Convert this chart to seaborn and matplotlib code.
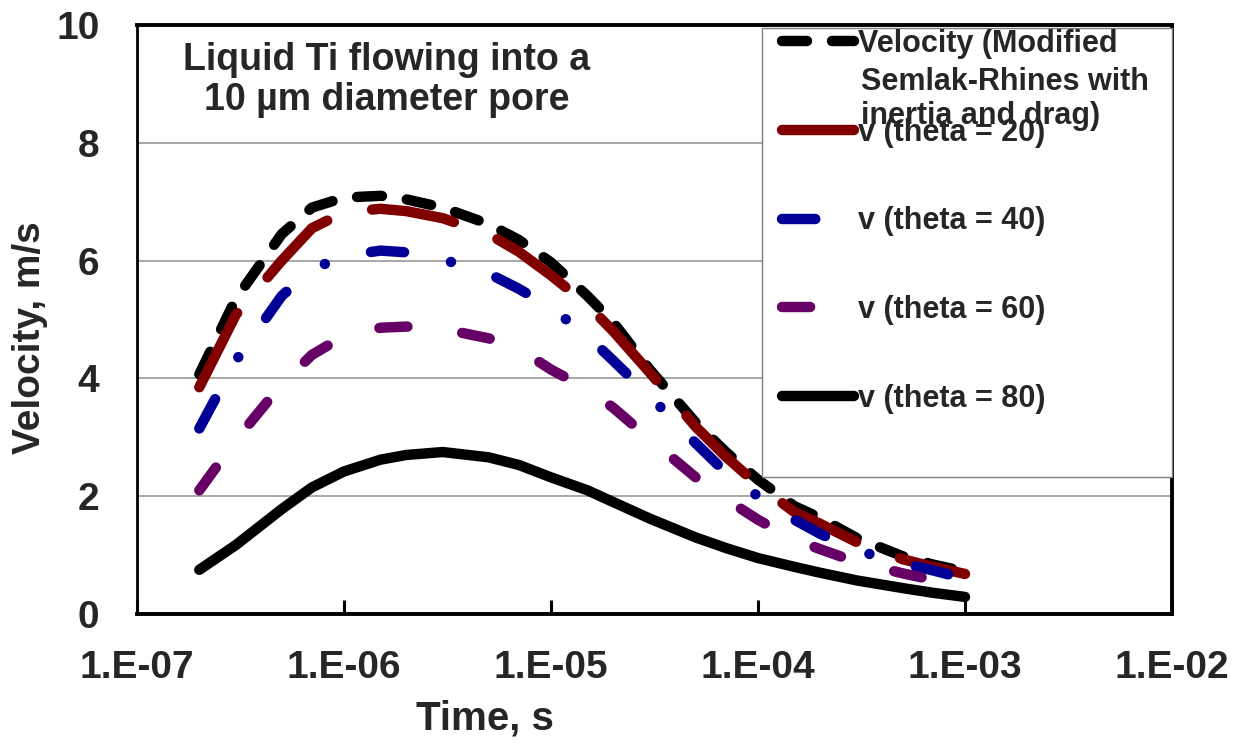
import numpy as np
import pandas as pd
import matplotlib
matplotlib.use("Agg")
import matplotlib.pyplot as plt
import seaborn as sns
from matplotlib.patches import Rectangle

# ---------------- data ----------------
time_s = [2e-7, 3e-7, 5e-7, 7e-7, 1e-6, 1.5e-6, 2e-6, 3e-6, 5e-6, 7e-6,
          1e-5, 1.5e-5, 2e-5, 3e-5, 5e-5, 7e-5, 1e-4, 1.5e-4, 2e-4, 3e-4,
          5e-4, 7e-4, 1e-3]

v_model = [4.07, 5.35, 6.45, 6.90, 7.07, 7.10, 7.04, 6.90, 6.62, 6.35,
           5.97, 5.40, 4.95, 4.15, 3.25, 2.75, 2.28, 1.83, 1.63, 1.29,
           0.98, 0.84, 0.72]
v_theta20 = [3.85, 5.08, 6.00, 6.55, 6.82, 6.88, 6.84, 6.72, 6.45, 6.15,
             5.75, 5.25, 4.80, 4.10, 3.18, 2.67, 2.19, 1.73, 1.53, 1.22,
             0.93, 0.80, 0.68]
v_theta40 = [3.15, 4.30, 5.40, 5.85, 6.08, 6.17, 6.14, 6.02, 5.78, 5.52,
             5.20, 4.72, 4.30, 3.70, 2.90, 2.40, 2.00, 1.60, 1.36, 1.08,
             0.86, 0.74, 0.60]
v_theta60 = [2.10, 2.95, 3.90, 4.40, 4.72, 4.86, 4.88, 4.84, 4.68, 4.50,
             4.15, 3.82, 3.50, 2.97, 2.32, 1.95, 1.60, 1.26, 1.10, 0.88,
             0.69, 0.58, 0.50]
v_theta80 = [0.75, 1.17, 1.78, 2.15, 2.42, 2.62, 2.70, 2.75, 2.66, 2.53,
             2.32, 2.10, 1.90, 1.62, 1.30, 1.12, 0.95, 0.80, 0.70, 0.57,
             0.44, 0.36, 0.29]

series_labels = ["Velocity (Modified", "v (theta = 20)", "v (theta = 40)",
                 "v (theta = 60)", "v (theta = 80)"]
label_cont = "Semlak-Rhines with\ninertia and drag)"
xtick_vals = [1e-7, 1e-6, 1e-5, 1e-4, 1e-3, 1e-2]
xtick_labels = ["1.E-07", "1.E-06", "1.E-05", "1.E-04", "1.E-03", "1.E-02"]
ytick_vals = [0, 2, 4, 6, 8, 10]
annotation = "Liquid Ti flowing into a\n10 \u00b5m diameter pore"

# ---------------- style ----------------
sns.set_style("white")
plt.rcParams['font.family'] = ['Liberation Sans', 'DejaVu Sans']
plt.rcParams['font.weight'] = 'bold'

fig = plt.figure(figsize=(12.45, 7.44), dpi=100)
ax = fig.add_axes([137 / 1245, 130 / 744, 1035 / 1245, 589 / 744])

colors = ["#000000", "#800000", "#000096", "#660066", "#000000"]
dash_patterns = [(2.4, 2.4), (8.0, 4.5), (3.2, 4.6, 0.01, 4.6), (2.7, 5.3), None]
lw = 7.5

all_series = [v_model, v_theta20, v_theta40, v_theta60, v_theta80]
handles = []
for vals, lab, col, dp in zip(all_series, series_labels, colors, dash_patterns):
    df = pd.DataFrame({"t": time_s, "v": vals})
    sns.lineplot(data=df, x="t", y="v", ax=ax, color=col, linewidth=lw,
                 label=lab, legend=False, sort=False)
    ln = ax.lines[-1]
    ln.set_solid_capstyle("round")
    ln.set_dash_capstyle("round")
    ln.set_solid_joinstyle("round")
    ln.set_dash_joinstyle("round")
    if dp is not None:
        ln.set_dashes(dp)
    handles.append(ln)

ax.set_xscale("log")
ax.set_xlim(1e-7, 1e-2)
ax.set_ylim(0, 10)
ax.set_xticks(xtick_vals)
ax.set_xticklabels(xtick_labels)
ax.xaxis.set_minor_locator(matplotlib.ticker.NullLocator())
ax.set_yticks(ytick_vals)
ax.set_yticklabels([str(v) for v in ytick_vals])

ax.tick_params(axis="x", which="major", direction="in", length=10, width=2.2,
               color="black", labelsize=28, pad=26, bottom=True)
ax.tick_params(axis="y", which="major", length=0, labelsize=28, pad=27)
for lbl in ax.get_xticklabels() + ax.get_yticklabels():
    lbl.set_fontweight("bold")

ax.grid(axis="y", color="#a0a0a0", linewidth=1.3)
ax.grid(axis="x", visible=False)
ax.set_axisbelow(True)

for name, sp in ax.spines.items():
    sp.set_visible(True)
    sp.set_color("black")
    sp.set_linewidth(2.8 if name != "left" else 2.0)

ax.set_xlabel("Time, s", fontsize=29, fontweight="bold")
ax.set_ylabel("Velocity, m/s", fontsize=28, fontweight="bold")
ax.xaxis.set_label_coords((485 - 137) / 1035, -(718 - 614) / 589)
ax.yaxis.set_label_coords(-(137 - 30) / 1035, (614 - 338) / 589)
ax.xaxis.label.set_verticalalignment("center")
ax.yaxis.label.set_verticalalignment("center")

ax.text((387 - 137) / 1035, (614 - 80) / 589, annotation, transform=ax.transAxes,
        ha="center", va="center", fontsize=27, fontweight="bold",
        linespacing=1.12)

# legend box (white, covers plot)
rect = Rectangle(((762 - 137) / 1035, (614 - 477) / 589),
                 1 - (762 - 137) / 1035, (477 - 28) / 589,
                 transform=ax.transAxes, facecolor="white", edgecolor="#808080",
                 linewidth=1.0, zorder=4, clip_on=False)
ax.add_patch(rect)

leg = ax.legend(handles=handles, labels=series_labels, loc="upper left",
                bbox_to_anchor=((782 - 137) / 1035, 1.0 - 4 / 589), frameon=False,
                handlelength=2.35, handletextpad=0.15,
                labelspacing=1.92, borderpad=0.0, borderaxespad=0.0,
                prop={"weight": "bold", "size": 22})
leg.set_zorder(6)

ax.text((861 - 137) / 1035, (614 - 99) / 589, label_cont, transform=ax.transAxes,
        ha="left", va="center", fontsize=22, fontweight="bold",
        linespacing=1.2, zorder=7)

fig.savefig("out.png", dpi=100)
